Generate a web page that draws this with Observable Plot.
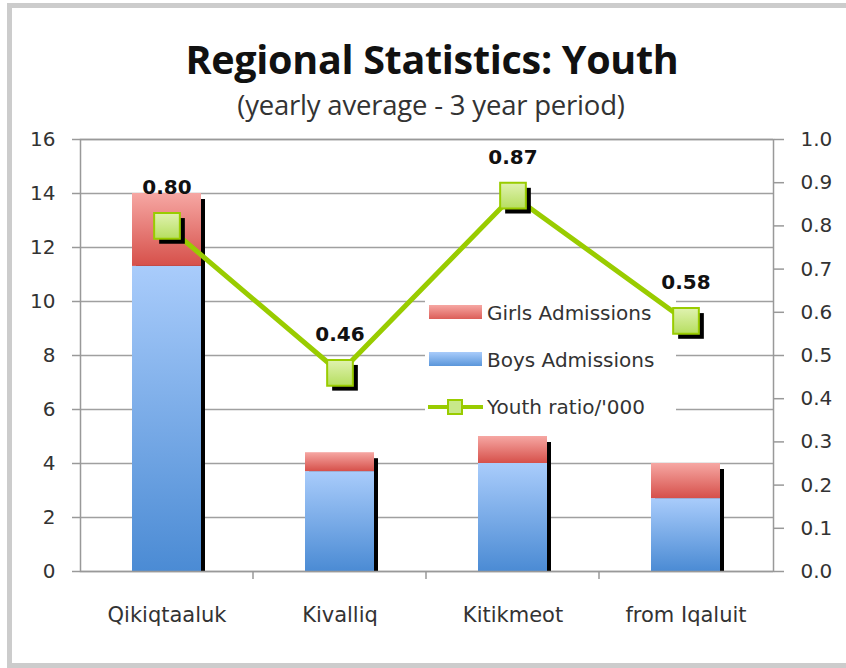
<!DOCTYPE html>
<html>
<head>
<meta charset="utf-8">
<script src="https://cdn.jsdelivr.net/npm/d3@7"></script>
<script src="https://cdn.jsdelivr.net/npm/@observablehq/plot@0.6"></script>
<style>
  html, body { margin: 0; padding: 0; background: #fff; }
  #wrap { position: relative; width: 846px; height: 668px; overflow: hidden; font-family: "DejaVu Sans", sans-serif; }
  #frame { position: absolute; left: 7px; top: 3px; width: 900px; height: 655px; border: 5px solid #cccccc; }
  #title { position: absolute; left: 0; width: 864px; top: 36px; text-align: center; font-family: "Open Sans", sans-serif; font-weight: 700; font-size: 39.5px; line-height: 46px; color: #111; letter-spacing: -0.3px; }
  #subtitle { position: absolute; left: 0; width: 862px; top: 88px; text-align: center; font-family: "Open Sans", sans-serif; font-size: 27.5px; line-height: 34px; color: #333; letter-spacing: -0.2px; }
  #chart { position: absolute; left: 0; top: 130px; }
</style>
</head>
<body>
<div id="wrap">
  <div id="frame"></div>
  <div id="title">Regional Statistics: Youth</div>
  <div id="subtitle">(yearly average - 3 year period)</div>
  <div id="chart"></div>
</div>
<script>
// ---- data ----
const categories = ["Qikiqtaaluk", "Kivalliq", "Kitikmeot", "from Iqaluit"];
const boysAdmissions = [11.3, 3.7, 4.0, 2.7];
const girlsAdmissions = [2.7, 0.7, 1.0, 1.3];
const youthRatio = [0.80, 0.46, 0.87, 0.58];
const ratioLabels = ["0.80", "0.46", "0.87", "0.58"];
const leftTicks = [0, 2, 4, 6, 8, 10, 12, 14, 16];
const rightTickLabels = ["0.0", "0.1", "0.2", "0.3", "0.4", "0.5", "0.6", "0.7", "0.8", "0.9", "1.0"];
const seriesNames = ["Girls Admissions", "Boys Admissions", "Youth ratio/'000"];

// right axis maps ratio 0..1 onto the left 0..16 scale
const leftMax = leftTicks[leftTicks.length - 1];
const rows = categories.map((c, i) => ({
  cat: c,
  boys: boysAdmissions[i],
  girls: girlsAdmissions[i],
  total: boysAdmissions[i] + girlsAdmissions[i],
  ratio: youthRatio[i],
  label: ratioLabels[i]
}));
const ratioY = d => d.ratio * leftMax;
const ns = "http://www.w3.org/2000/svg";
function el(tag, attrs) {
  const e = document.createElementNS(ns, tag);
  for (const k in attrs) e.setAttribute(k, attrs[k]);
  return e;
}

function bandTicks(index, scales, values, dims) {
  const x = scales.x;
  const bw = x.bandwidth ? x.bandwidth() : 0;
  const step = x(categories[1]) - x(categories[0]);
  const y0 = dims.height - dims.marginBottom;
  const g = el("g", {});
  for (let i = 1; i < categories.length; i++) {
    const px = x(categories[i]) + bw / 2 - step / 2;
    g.appendChild(el("line", { x1: px, x2: px, y1: y0, y2: y0 + 8, stroke: "#999", "stroke-width": 1.5 }));
  }
  return g;
}

// legend box inside the plot area (layout element, drawn beneath the line)
function legendMark() {
  const g = el("g", { transform: "translate(425,160)", "text-anchor": "start" });
  g.appendChild(el("rect", { x: 0, y: 0, width: 251, height: 138, fill: "#fff" }));
  const rowY = [23, 70, 117];
  seriesNames.forEach((name, i) => {
    const cy = rowY[i];
    if (i < 2) {
      g.appendChild(el("rect", { x: 4, y: cy - 8, width: 53, height: 14, fill: i === 0 ? "url(#gGirlsL)" : "url(#gBoysL)" }));
    } else {
      g.appendChild(el("line", { x1: 3, x2: 58, y1: cy, y2: cy, stroke: "#99cc00", "stroke-width": 4 }));
      g.appendChild(el("rect", { x: 23, y: cy - 7, width: 14, height: 14, fill: "#c8e88a", stroke: "#99cc00", "stroke-width": 2 }));
    }
    const t = el("text", { x: 62, y: cy, dy: "0.36em", fill: "#333", "font-size": 20, "text-anchor": "start" });
    t.textContent = name;
    g.appendChild(t);
  });
  return g;
}

const textColor = "#333";
const plot = Plot.plot({
  width: 846,
  height: 510,
  marginTop: 9,
  marginBottom: 69,
  marginLeft: 80,
  marginRight: 73,
  style: { fontFamily: "DejaVu Sans, sans-serif", fontSize: "20px", color: textColor, background: "transparent", overflow: "visible" },
  x: { domain: categories, paddingInner: 0.6, paddingOuter: 0.3, label: null },
  y: { domain: [0, leftMax], label: null },
  marks: [
    Plot.gridY(leftTicks, { stroke: "#a0a0a0", strokeOpacity: 1, strokeWidth: 1.5 }),
    // bar drop shadows
    Plot.barY(rows, { x: "cat", y1: 0, y2: "total", fill: "#000", dx: 4, dy: 6, clip: true }),
    Plot.barY(rows, { x: "cat", y1: 0, y2: "boys", fill: "url(#gBoys)" }),
    Plot.barY(rows, { x: "cat", y1: "boys", y2: "total", fill: "url(#gGirls)" }),
    Plot.frame({ stroke: "#999", strokeWidth: 1.5 }),
    Plot.axisY(leftTicks, { anchor: "left", tickSize: 8, tickPadding: 17, fontSize: 20, stroke: "#999", strokeWidth: 1.5, color: textColor, label: null }),
    Plot.axisY(rightTickLabels.map(s => +s * leftMax), { anchor: "right", tickSize: 10, tickPadding: 17, fontSize: 20, stroke: "#999", strokeWidth: 1.5, tickFormat: (d, i) => rightTickLabels[i], label: null }),
    Plot.axisX({ anchor: "bottom", tickSize: 0, tickPadding: 36, fontSize: 21, label: null }),
    bandTicks,
    legendMark,
    // youth ratio line
    Plot.line(rows, { x: "cat", y: ratioY, stroke: "#99cc00", strokeWidth: 5 }),
    Plot.dot(rows, { x: "cat", y: ratioY, symbol: "square", r: 14.5, fill: "#000", dx: 5, dy: 5 }),
    Plot.dot(rows, { x: "cat", y: ratioY, symbol: "square", r: 14.5, fill: "url(#gMark)", stroke: "#99cc00", strokeWidth: 2 }),
    Plot.text(rows, { x: "cat", y: ratioY, text: "label", dy: -38, fontWeight: "bold", fontSize: 20, fill: "#111" })
  ]
});

const defs = `<defs>
  <linearGradient id="gBoys" x1="0" y1="0" x2="0" y2="1">
    <stop offset="0" stop-color="#a9ccfb"/><stop offset="1" stop-color="#4b8bd4"/>
  </linearGradient>
  <linearGradient id="gGirls" x1="0" y1="0" x2="0" y2="1">
    <stop offset="0" stop-color="#f6a7a3"/><stop offset="1" stop-color="#d6504a"/>
  </linearGradient>
  <linearGradient id="gBoysL" x1="0" y1="0" x2="0" y2="1">
    <stop offset="0" stop-color="#a9ccfb"/><stop offset="1" stop-color="#5a96da"/>
  </linearGradient>
  <linearGradient id="gGirlsL" x1="0" y1="0" x2="0" y2="1">
    <stop offset="0" stop-color="#f6a7a3"/><stop offset="1" stop-color="#dc5e58"/>
  </linearGradient>
  <linearGradient id="gMark" x1="0" y1="0" x2="0" y2="1">
    <stop offset="0" stop-color="#e0f2b0"/><stop offset="1" stop-color="#b6de60"/>
  </linearGradient>
</defs>`;
plot.insertAdjacentHTML("afterbegin", defs);
document.getElementById("chart").appendChild(plot);
</script>
</body>
</html>
